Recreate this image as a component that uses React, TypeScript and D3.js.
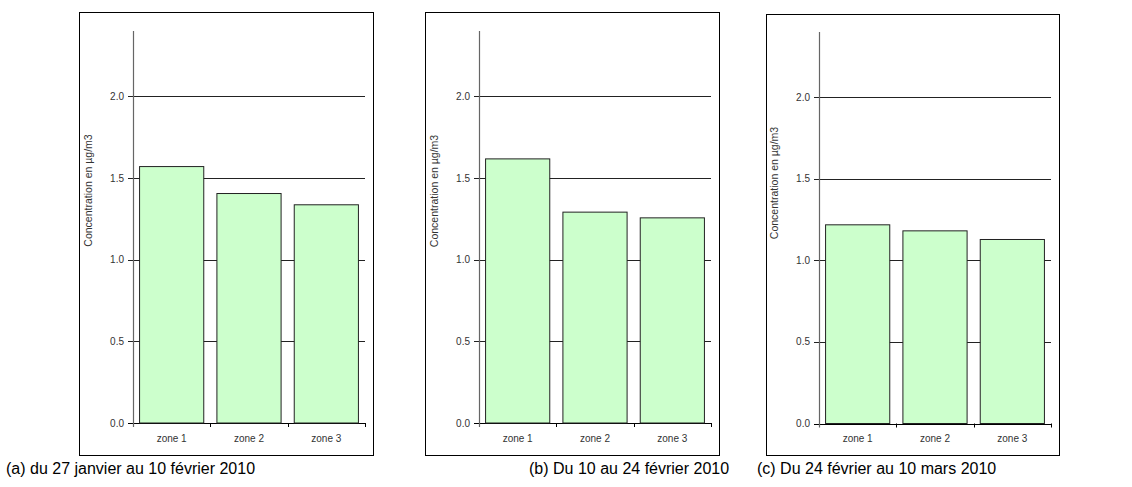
import React from "react";
import * as d3 from "d3";

// Zones sampled and mean concentrations (µg/m3) for each sampling period
const zones = ["zone 1", "zone 2", "zone 3"];
const valuesA = [1.57, 1.405, 1.336];
const valuesB = [1.617, 1.291, 1.256];
const valuesC = [1.218, 1.181, 1.128];
const yTicks = [0, 0.5, 1.0, 1.5, 2.0];
const yMax = 2.4;
const yLabel = "Concentration en µg/m3";
const captions = [
  "(a) du 27 janvier au 10 février 2010",
  "(b) Du 10 au 24 février 2010",
  "(c) Du 24 février au 10 mars 2010",
];

type Panel = {
  values: number[];
  box: { x0: number; y0: number; x1: number; y1: number };
  plot: { x0: number; y0: number; x1: number; y1: number };
  labelX: number;
  labelY: number;
  captionX: number;
};

const panels: Panel[] = [
  {
    values: valuesA,
    box: { x0: 79.5, y0: 12.5, x1: 373.5, y1: 455.5 },
    plot: { x0: 133, y0: 31, x1: 365, y1: 423 },
    labelX: 92,
    labelY: 190.5,
    captionX: 6,
  },
  {
    values: valuesB,
    box: { x0: 425.5, y0: 12.5, x1: 719.5, y1: 455.5 },
    plot: { x0: 479, y0: 31, x1: 711, y1: 423 },
    labelX: 438,
    labelY: 191,
    captionX: 529,
  },
  {
    values: valuesC,
    box: { x0: 766.5, y0: 14.5, x1: 1059.5, y1: 455.5 },
    plot: { x0: 819, y0: 32, x1: 1051, y1: 423.5 },
    labelX: 778,
    labelY: 183,
    captionX: 757,
  },
];

const FONT = "'Liberation Sans', Arial, sans-serif";

function BarPanel({ p }: { p: Panel }) {
  const x = d3
    .scaleBand<string>()
    .domain(zones)
    .range([p.plot.x0, p.plot.x1])
    .paddingInner(0.17)
    .paddingOuter(0.085);
  const y = d3.scaleLinear().domain([0, yMax]).range([p.plot.y1, p.plot.y0]);
  const step = x.step();
  const bandEdges = zones.map((z) => (x(z) as number) - (step * 0.17) / 2 + step);

  return (
    <g>
      <rect
        x={p.box.x0}
        y={p.box.y0}
        width={p.box.x1 - p.box.x0}
        height={p.box.y1 - p.box.y0}
        fill="white"
        stroke="#000"
        strokeWidth={1}
      />
      {/* horizontal gridlines and y ticks */}
      {yTicks.map((t) => (
        <g key={t}>
          <line
            x1={p.plot.x0 - 5}
            x2={p.plot.x1}
            y1={Math.round(y(t)) + 0.5}
            y2={Math.round(y(t)) + 0.5}
            stroke={t === 0 ? "#000" : "#222"}
            strokeWidth={1}
          />
          <text
            x={p.plot.x0 - 9}
            y={y(t)}
            dy="0.35em"
            textAnchor="end"
            fontSize={10}
            fontFamily={FONT}
            fill="#333"
          >
            {d3.format(".1f")(t)}
          </text>
        </g>
      ))}
      {/* bars */}
      {p.values.map((v, i) => (
        <rect
          key={zones[i]}
          x={x(zones[i])}
          y={y(v)}
          width={x.bandwidth()}
          height={y(0) - y(v)}
          fill="#ccffcc"
          stroke="#222"
          strokeWidth={1}
        />
      ))}
      {/* y axis line */}
      <line
        x1={p.plot.x0 + 0.5}
        x2={p.plot.x0 + 0.5}
        y1={p.plot.y0}
        y2={p.plot.y1 + 4}
        stroke="#666"
        strokeWidth={1.2}
      />
      {/* x ticks at category boundaries */}
      {bandEdges.map((bx, i) => (
        <line
          key={i}
          x1={Math.round(bx) + 0.5}
          x2={Math.round(bx) + 0.5}
          y1={p.plot.y1}
          y2={p.plot.y1 + 4}
          stroke="#000"
          strokeWidth={1}
        />
      ))}
      {zones.map((z) => (
        <text
          key={z}
          x={(x(z) as number) + x.bandwidth() / 2}
          y={p.plot.y1 + 18.5}
          textAnchor="middle"
          fontSize={10}
          fontFamily={FONT}
          fill="#333"
        >
          {z}
        </text>
      ))}
      <text
        transform={`translate(${p.labelX},${p.labelY}) rotate(-90)`}
        textAnchor="middle"
        fontSize={10.5}
        fontFamily={FONT}
        fill="#333"
      >
        {yLabel}
      </text>
    </g>
  );
}

export default function App() {
  return (
    <svg
      width={1132}
      height={487}
      style={{ position: "absolute", left: 0, top: 0, background: "white" }}
    >
      {panels.map((p, i) => (
        <g key={i}>
          <BarPanel p={p} />
          <text
            x={p.captionX}
            y={474}
            fontSize={16}
            fontFamily={FONT}
            fill="#000"
          >
            {captions[i]}
          </text>
        </g>
      ))}
    </svg>
  );
}
